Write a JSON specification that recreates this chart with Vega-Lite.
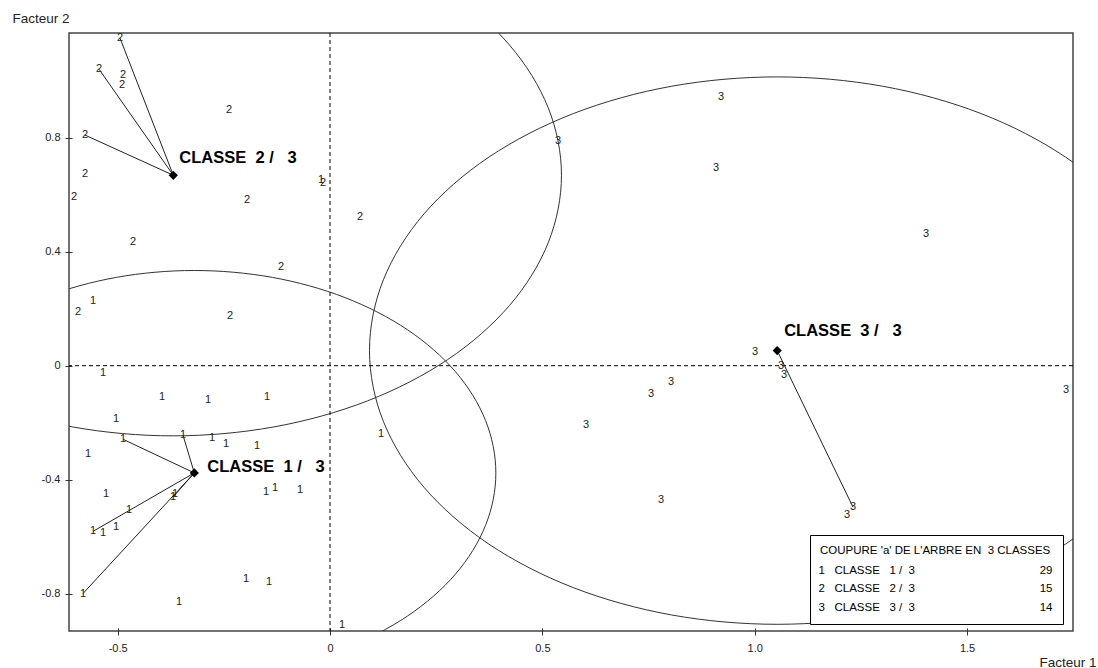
{
  "$schema": "https://vega.github.io/schema/vega-lite/v6.json",
  "width": 1004,
  "height": 598,
  "autosize": {"type": "none"},
  "padding": {"left": 69, "top": 33, "right": 25, "bottom": 37},
  "background": "white",
  "config": {
    "view": {"stroke": "#444", "strokeWidth": 1.5},
    "font": "Liberation Sans",
    "axis": {
      "domain": false, "grid": false,
      "tickSize": 7, "tickColor": "#333", "tickWidth": 1, "offset": -3,
      "labelFont": "Liberation Sans", "labelFontSize": 11, "labelColor": "#222",
      "labelFlush": false, "labelOverlap": false,
      "titleFont": "Liberation Sans", "titleFontSize": 13.5,
      "titleFontWeight": "normal", "titleColor": "#222"
    },
    "legend": {
      "orient": "none",
      "legendX": 741,
      "legendY": 502,
      "direction": "vertical",
      "padding": 10,
      "strokeColor": "#000",
      "fillColor": "#fff",
      "cornerRadius": 0,
      "strokeWidth": 1,
      "titleFont": "Liberation Sans",
      "titleFontSize": 11.5,
      "titleFontWeight": "normal",
      "titleColor": "#000",
      "titlePadding": 8.5,
      "titleLimit": 400,
      "labelFont": "Liberation Sans",
      "labelFontSize": 11.5,
      "labelColor": "#000",
      "labelLimit": 400,
      "labelOffset": -13,
      "symbolSize": 0,
      "symbolOpacity": 0,
      "symbolStrokeWidth": 0,
      "rowPadding": 5.5
    }
  },
  "datasets": {
    "points": [
      {"classe": "2", "x": -0.4945, "y": 1.149},
      {"classe": "2", "x": -0.5439, "y": 1.04},
      {"classe": "2", "x": -0.4874, "y": 1.019},
      {"classe": "2", "x": -0.4897, "y": 0.984},
      {"classe": "2", "x": -0.2378, "y": 0.897},
      {"classe": "2", "x": -0.5769, "y": 0.809},
      {"classe": "2", "x": -0.5769, "y": 0.672},
      {"classe": "2", "x": -0.6028, "y": 0.591},
      {"classe": "2", "x": -0.0165, "y": 0.641},
      {"classe": "2", "x": -0.1954, "y": 0.581},
      {"classe": "2", "x": -0.4639, "y": 0.433},
      {"classe": "2", "x": 0.0706, "y": 0.521},
      {"classe": "2", "x": -0.1154, "y": 0.346},
      {"classe": "2", "x": -0.5934, "y": 0.188},
      {"classe": "2", "x": -0.2355, "y": 0.174},
      {"classe": "1", "x": -0.5345, "y": -0.026},
      {"classe": "1", "x": -0.3956, "y": -0.111},
      {"classe": "1", "x": -0.2873, "y": -0.121},
      {"classe": "1", "x": -0.1483, "y": -0.111},
      {"classe": "1", "x": -0.5039, "y": -0.188},
      {"classe": "1", "x": -0.4874, "y": -0.258},
      {"classe": "1", "x": -0.3461, "y": -0.244},
      {"classe": "1", "x": -0.2778, "y": -0.254},
      {"classe": "1", "x": -0.2449, "y": -0.275},
      {"classe": "1", "x": -0.1719, "y": -0.282},
      {"classe": "1", "x": -0.5698, "y": -0.311},
      {"classe": "1", "x": -0.1507, "y": -0.444},
      {"classe": "1", "x": -0.1295, "y": -0.43},
      {"classe": "1", "x": -0.0706, "y": -0.437},
      {"classe": "1", "x": -0.5274, "y": -0.451},
      {"classe": "1", "x": -0.3697, "y": -0.461},
      {"classe": "1", "x": -0.365, "y": -0.451},
      {"classe": "1", "x": -0.4733, "y": -0.507},
      {"classe": "1", "x": -0.558, "y": -0.581},
      {"classe": "1", "x": -0.5345, "y": -0.588},
      {"classe": "1", "x": -0.5039, "y": -0.567},
      {"classe": "1", "x": -0.1978, "y": -0.749},
      {"classe": "1", "x": -0.1436, "y": -0.76},
      {"classe": "1", "x": -0.5816, "y": -0.799},
      {"classe": "1", "x": -0.3555, "y": -0.83},
      {"classe": "1", "x": 0.0283, "y": -0.911},
      {"classe": "1", "x": -0.558, "y": 0.226},
      {"classe": "1", "x": -0.0212, "y": 0.652},
      {"classe": "1", "x": 0.1201, "y": -0.24},
      {"classe": "3", "x": 0.9206, "y": 0.942},
      {"classe": "3", "x": 0.9089, "y": 0.693},
      {"classe": "3", "x": 1.4034, "y": 0.461},
      {"classe": "3", "x": 0.5369, "y": 0.787},
      {"classe": "3", "x": 1.0007, "y": 0.047},
      {"classe": "3", "x": 1.069, "y": -0.033},
      {"classe": "3", "x": 1.0619, "y": -0.002},
      {"classe": "3", "x": 0.8029, "y": -0.058},
      {"classe": "3", "x": 0.7558, "y": -0.1},
      {"classe": "3", "x": 0.6028, "y": -0.209},
      {"classe": "3", "x": 0.7794, "y": -0.472},
      {"classe": "3", "x": 1.2315, "y": -0.496},
      {"classe": "3", "x": 1.2173, "y": -0.525},
      {"classe": "3", "x": 1.733, "y": -0.086}
    ],
    "centroids": [
      {"classe": "1", "x": -0.3195, "y": -0.376, "label": "CLASSE\u00a0 1 /\u00a0\u00a0 3"},
      {"classe": "2", "x": -0.369, "y": 0.668, "label": "CLASSE\u00a0 2 /\u00a0\u00a0 3"},
      {"classe": "3", "x": 1.053, "y": 0.053, "label": "CLASSE\u00a0 3 /\u00a0\u00a0 3"}
    ],
    "links": [
      {"x": -0.369, "y": 0.668, "x2": -0.4945, "y2": 1.149},
      {"x": -0.369, "y": 0.668, "x2": -0.5439, "y2": 1.04},
      {"x": -0.369, "y": 0.668, "x2": -0.5769, "y2": 0.809},
      {"x": -0.3195, "y": -0.376, "x2": -0.3461, "y2": -0.244},
      {"x": -0.3195, "y": -0.376, "x2": -0.4874, "y2": -0.258},
      {"x": -0.3195, "y": -0.376, "x2": -0.558, "y2": -0.581},
      {"x": -0.3195, "y": -0.376, "x2": -0.5816, "y2": -0.799},
      {"x": -0.3195, "y": -0.376, "x2": -0.3697, "y2": -0.461},
      {"x": 1.053, "y": 0.053, "x2": 1.2315, "y2": -0.496}
    ],
    "circles": [
      {"c": "1", "i": 0, "x": 0.3905, "y": -0.376},
      {"c": "1", "i": 1, "x": 0.3663, "y": -0.1923},
      {"c": "1", "i": 2, "x": 0.2954, "y": -0.021},
      {"c": "1", "i": 3, "x": 0.1825, "y": 0.126},
      {"c": "1", "i": 4, "x": 0.0355, "y": 0.2389},
      {"c": "1", "i": 5, "x": -0.1358, "y": 0.3098},
      {"c": "1", "i": 6, "x": -0.3195, "y": 0.334},
      {"c": "1", "i": 7, "x": -0.5032, "y": 0.3098},
      {"c": "1", "i": 8, "x": -0.6745, "y": 0.2389},
      {"c": "1", "i": 9, "x": -0.8215, "y": 0.126},
      {"c": "1", "i": 10, "x": -0.9344, "y": -0.021},
      {"c": "1", "i": 11, "x": -1.0053, "y": -0.1923},
      {"c": "1", "i": 12, "x": -1.0295, "y": -0.376},
      {"c": "1", "i": 13, "x": -1.0053, "y": -0.5597},
      {"c": "1", "i": 14, "x": -0.9344, "y": -0.731},
      {"c": "1", "i": 15, "x": -0.8215, "y": -0.878},
      {"c": "1", "i": 16, "x": -0.6745, "y": -0.9909},
      {"c": "1", "i": 17, "x": -0.5032, "y": -1.0618},
      {"c": "1", "i": 18, "x": -0.3195, "y": -1.086},
      {"c": "1", "i": 19, "x": -0.1358, "y": -1.0618},
      {"c": "1", "i": 20, "x": 0.0355, "y": -0.9909},
      {"c": "1", "i": 21, "x": 0.1825, "y": -0.878},
      {"c": "1", "i": 22, "x": 0.2954, "y": -0.731},
      {"c": "1", "i": 23, "x": 0.3663, "y": -0.5597},
      {"c": "2", "i": 0, "x": 0.545, "y": 0.668},
      {"c": "2", "i": 1, "x": 0.5138, "y": 0.9046},
      {"c": "2", "i": 2, "x": 0.4225, "y": 1.125},
      {"c": "2", "i": 3, "x": 0.2773, "y": 1.3143},
      {"c": "2", "i": 4, "x": 0.088, "y": 1.4595},
      {"c": "2", "i": 5, "x": -0.1324, "y": 1.5508},
      {"c": "2", "i": 6, "x": -0.369, "y": 1.582},
      {"c": "2", "i": 7, "x": -0.6056, "y": 1.5508},
      {"c": "2", "i": 8, "x": -0.826, "y": 1.4595},
      {"c": "2", "i": 9, "x": -1.0153, "y": 1.3143},
      {"c": "2", "i": 10, "x": -1.1605, "y": 1.125},
      {"c": "2", "i": 11, "x": -1.2518, "y": 0.9046},
      {"c": "2", "i": 12, "x": -1.283, "y": 0.668},
      {"c": "2", "i": 13, "x": -1.2518, "y": 0.4314},
      {"c": "2", "i": 14, "x": -1.1605, "y": 0.211},
      {"c": "2", "i": 15, "x": -1.0153, "y": 0.0217},
      {"c": "2", "i": 16, "x": -0.826, "y": -0.1235},
      {"c": "2", "i": 17, "x": -0.6056, "y": -0.2148},
      {"c": "2", "i": 18, "x": -0.369, "y": -0.246},
      {"c": "2", "i": 19, "x": -0.1324, "y": -0.2148},
      {"c": "2", "i": 20, "x": 0.088, "y": -0.1235},
      {"c": "2", "i": 21, "x": 0.2773, "y": 0.0217},
      {"c": "2", "i": 22, "x": 0.4225, "y": 0.211},
      {"c": "2", "i": 23, "x": 0.5138, "y": 0.4314},
      {"c": "3", "i": 0, "x": 2.013, "y": 0.053},
      {"c": "3", "i": 1, "x": 1.9803, "y": 0.3014},
      {"c": "3", "i": 2, "x": 1.8844, "y": 0.533},
      {"c": "3", "i": 3, "x": 1.7318, "y": 0.7318},
      {"c": "3", "i": 4, "x": 1.533, "y": 0.8844},
      {"c": "3", "i": 5, "x": 1.3014, "y": 0.9803},
      {"c": "3", "i": 6, "x": 1.053, "y": 1.013},
      {"c": "3", "i": 7, "x": 0.8046, "y": 0.9803},
      {"c": "3", "i": 8, "x": 0.573, "y": 0.8844},
      {"c": "3", "i": 9, "x": 0.3742, "y": 0.7318},
      {"c": "3", "i": 10, "x": 0.2216, "y": 0.533},
      {"c": "3", "i": 11, "x": 0.1257, "y": 0.3014},
      {"c": "3", "i": 12, "x": 0.093, "y": 0.053},
      {"c": "3", "i": 13, "x": 0.1257, "y": -0.1954},
      {"c": "3", "i": 14, "x": 0.2216, "y": -0.427},
      {"c": "3", "i": 15, "x": 0.3742, "y": -0.6258},
      {"c": "3", "i": 16, "x": 0.573, "y": -0.7784},
      {"c": "3", "i": 17, "x": 0.8046, "y": -0.8743},
      {"c": "3", "i": 18, "x": 1.053, "y": -0.907},
      {"c": "3", "i": 19, "x": 1.3014, "y": -0.8743},
      {"c": "3", "i": 20, "x": 1.533, "y": -0.7784},
      {"c": "3", "i": 21, "x": 1.7318, "y": -0.6258},
      {"c": "3", "i": 22, "x": 1.8844, "y": -0.427},
      {"c": "3", "i": 23, "x": 1.9803, "y": -0.1954}
    ],
    "zeroX": [{"x": 0}],
    "zeroY": [{"y": 0}]
  },
  "layer": [
    {
      "data": {"name": "circles"},
      "mark": {"type": "line", "interpolate": "cardinal-closed", "clip": true, "color": "#333", "strokeWidth": 1},
      "encoding": {
        "x": {
          "field": "x", "type": "quantitative",
          "scale": {"domain": [-0.6146, 1.7495], "nice": false, "zero": false},
          "axis": {
            "values": [-0.5, 0, 0.5, 1, 1.5],
            "labelExpr": "datum.value == 0 ? '0' : replace(format(datum.value, '.1f'), '\u2212', '-')",
            "labelPadding": 7,
            "title": "Facteur 1", "titleX": 1027, "titleY": 38, "titleAlign": "right",
            "titleBaseline": "alphabetic"
          }
        },
        "y": {
          "field": "y", "type": "quantitative",
          "scale": {"domain": [-0.9305, 1.167], "nice": false, "zero": false},
          "axis": {
            "values": [-0.8, -0.4, 0, 0.4, 0.8],
            "labelExpr": "datum.value == 0 ? '0' : replace(format(datum.value, '.1f'), '\u2212', '-')",
            "labelPadding": 5,
            "title": "Facteur 2", "titleAngle": 0, "titleX": -60, "titleY": -10.3, "titleAlign": "left",
            "titleBaseline": "alphabetic"
          }
        },
        "detail": {"field": "c"},
        "order": {"field": "i", "type": "quantitative"}
      }
    },
    {
      "data": {"name": "zeroX"},
      "mark": {"type": "rule", "color": "#000", "strokeWidth": 1, "strokeDash": [4, 3]},
      "encoding": {
        "x": {"field": "x", "type": "quantitative"}
      }
    },
    {
      "data": {"name": "zeroY"},
      "mark": {"type": "rule", "color": "#000", "strokeWidth": 1, "strokeDash": [4, 3]},
      "encoding": {
        "y": {"field": "y", "type": "quantitative"}
      }
    },
    {
      "data": {"name": "links"},
      "mark": {"type": "rule", "color": "#222", "strokeWidth": 1},
      "encoding": {
        "x": {"field": "x", "type": "quantitative"},
        "y": {"field": "y", "type": "quantitative"},
        "x2": {"field": "x2"},
        "y2": {"field": "y2"}
      }
    },
    {
      "data": {"name": "points"},
      "mark": {"type": "text", "font": "Liberation Sans", "fontSize": 11, "align": "center", "baseline": "middle"},
      "encoding": {
        "x": {"field": "x", "type": "quantitative"},
        "y": {"field": "y", "type": "quantitative"},
        "text": {"field": "classe"},
        "color": {
          "field": "classe", "type": "nominal",
          "scale": {"range": ["#222", "#222", "#222"]},
          "legend": {
            "title": "COUPURE 'a' DE L'ARBRE EN \u00a03 CLASSES",
            "labelExpr": "datum.label + '\u00a0\u00a0\u00a0CLASSE\u00a0\u00a0\u00a0' + datum.label + '\u00a0/\u00a0\u00a03' + pad('', 39, '\u00a0') + (datum.label == '1' ? '29' : datum.label == '2' ? '15' : '14')"
          }
        }
      }
    },
    {
      "data": {"name": "centroids"},
      "mark": {"type": "point", "shape": "diamond", "filled": true, "color": "#000", "size": 85, "opacity": 1},
      "encoding": {
        "x": {"field": "x", "type": "quantitative"},
        "y": {"field": "y", "type": "quantitative"}
      }
    },
    {
      "data": {"name": "centroids"},
      "transform": [{"filter": "datum.classe == '2'"}],
      "mark": {"type": "text", "font": "Liberation Sans", "fontSize": 16.5, "fontWeight": "bold", "align": "left", "baseline": "alphabetic", "dx": 6, "dy": -12, "color": "#000"},
      "encoding": {
        "x": {"field": "x", "type": "quantitative"},
        "y": {"field": "y", "type": "quantitative"},
        "text": {"field": "label"}
      }
    },
    {
      "data": {"name": "centroids"},
      "transform": [{"filter": "datum.classe == '3'"}],
      "mark": {"type": "text", "font": "Liberation Sans", "fontSize": 16.5, "fontWeight": "bold", "align": "left", "baseline": "alphabetic", "dx": 7, "dy": -15, "color": "#000"},
      "encoding": {
        "x": {"field": "x", "type": "quantitative"},
        "y": {"field": "y", "type": "quantitative"},
        "text": {"field": "label"}
      }
    },
    {
      "data": {"name": "centroids"},
      "transform": [{"filter": "datum.classe == '1'"}],
      "mark": {"type": "text", "font": "Liberation Sans", "fontSize": 16.5, "fontWeight": "bold", "align": "left", "baseline": "alphabetic", "dx": 13, "dy": -1, "color": "#000"},
      "encoding": {
        "x": {"field": "x", "type": "quantitative"},
        "y": {"field": "y", "type": "quantitative"},
        "text": {"field": "label"}
      }
    }
  ]
}
